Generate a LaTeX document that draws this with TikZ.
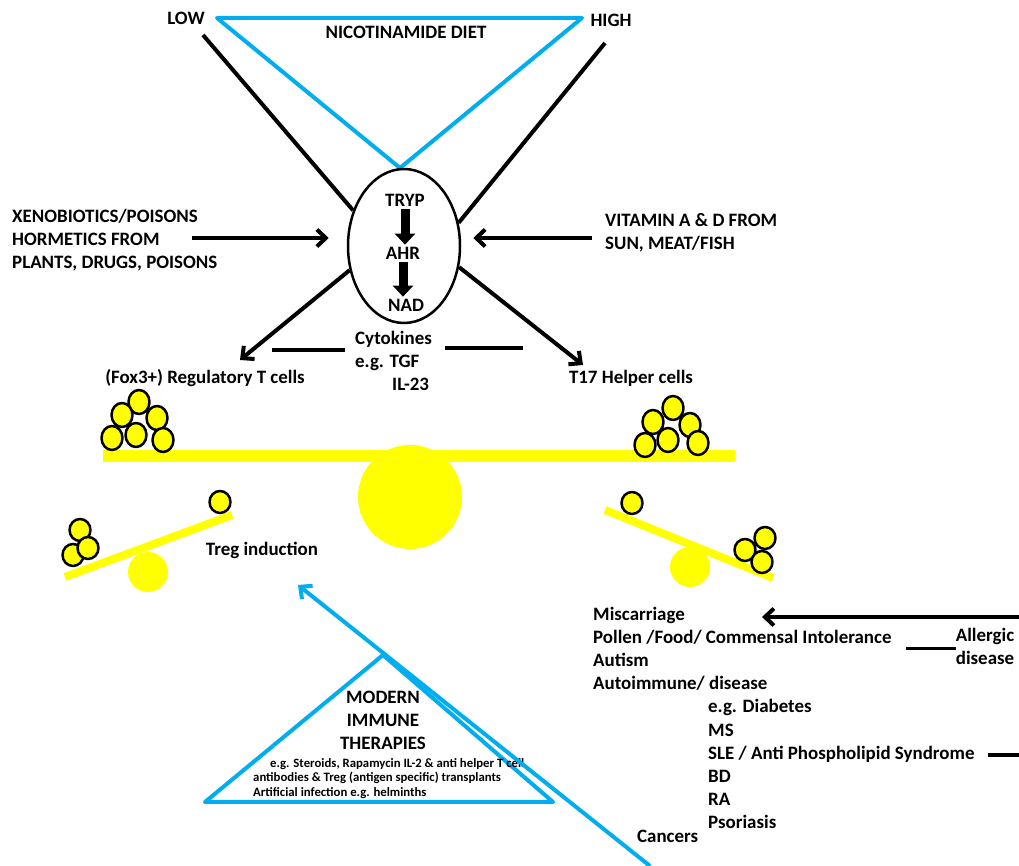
\documentclass[tikz,border=0pt]{standalone}
\usepackage{fontspec}
\setmainfont{Carlito}
\usetikzlibrary{shapes.geometric,arrows.meta}
\definecolor{dietblue}{RGB}{0,174,239}
\definecolor{cellyellow}{RGB}{255,255,0}
\begin{document}
\begin{tikzpicture}[>={Straight Barb[length=9bp,width=17bp]},line join=round,
  lbl/.style={font=\bfseries\fontsize{19}{23.2}\selectfont,inner sep=0pt},
  tiny/.style={font=\bfseries\fontsize{12.8}{14.5}\selectfont,inner sep=0pt},
  blk/.style={line width=4bp,black},
  blu/.style={line width=4bp,dietblue},
  tcell/.style={ellipse,draw=black,line width=2.5bp,fill=cellyellow,minimum width=21bp,minimum height=24bp,inner sep=0pt},
  pathway/.style={-{Triangle[width=20bp,length=11bp]},line width=9bp}]
\useasboundingbox (0bp,0bp) rectangle (1019bp,866bp);
%% nicotinamide diet
  \coordinate (dietL) at (217bp,848bp);
  \coordinate (dietR) at (582bp,848bp);
  \coordinate (dietB) at (400bp,698bp);
  \draw [blu] (dietL) -- (dietR) -- (dietB) -- cycle;
  \node (LOW) at (186bp,848bp) [lbl] {LOW};
  \node (HIGH) at (611bp,846bp) [lbl] {HIGH};
  \node (DIET) at (406bp,834bp) [lbl] {NICOTINAMIDE DIET};
%% AHR pathway
  \node (AHRcell) at (404bp,620bp) [draw,ellipse,line width=2.5bp,minimum width=112bp,minimum height=154bp] {};
  \node (TRYP) at (405bp,666bp) [lbl] {TRYP};
  \node (AHR) at (403bp,613bp) [lbl] {AHR};
  \node (NAD) at (406bp,561bp) [lbl] {NAD};
  \draw [pathway,shorten <=3bp,shorten >=2bp] (TRYP.south) -- (TRYP.south |- AHR.north);
  \draw [pathway,shorten <=3bp,shorten >=2bp] (AHR.south) -- (AHR.south |- NAD.north);
  \coordinate (lowEnd) at (203bp,831bp);
  \coordinate (highEnd) at (605bp,823bp);
  \coordinate (regTip) at (240bp,506bp);
  \coordinate (helpTip) at (583bp,501bp);
  \draw [blk] (lowEnd) -- (AHRcell.145);
  \draw [blk] (highEnd) -- (AHRcell.23);
  \draw [blk,->] (AHRcell.204) -- (regTip);
  \draw [blk,->] (AHRcell.339) -- (helpTip);
%% inputs
  \node (XENO) at (12bp,626bp) [lbl,anchor=west,align=left] {XENOBIOTICS/POISONS\\HORMETICS FROM\\PLANTS, DRUGS, POISONS};
  \coordinate (xenoTail) at (192bp,628bp);
  \draw [blk,->,shorten >=18bp] (xenoTail) -- (AHRcell.west |- xenoTail);
  \node (VITA) at (605bp,633bp) [lbl,anchor=west,align=left] {VITAMIN A \& D FROM\\SUN, MEAT/FISH};
  \coordinate (vitaTail) at (592bp,628bp);
  \draw [blk,->,shorten >=12bp] (vitaTail) -- (AHRcell.east |- vitaTail);
%% cytokines
  \node (CYTO) at (355bp,535bp) [lbl,anchor=north west,align=left] {Cytokines\\e.g. TGF\\\hspace*{37bp}IL-23};
  \coordinate (cytoA) at (272bp,516bp);
  \coordinate (cytoB) at (345bp,516bp);
  \coordinate (cytoC) at (445bp,518bp);
  \coordinate (cytoD) at (523bp,518bp);
  \draw [blk] (cytoA) -- (cytoB);
  \draw [blk] (cytoC) -- (cytoD);
  \node (RegT) at (205bp,488bp) [lbl] {(Fox3+) Regulatory T cells};
  \node (T17) at (631bp,488bp) [lbl] {T17 Helper cells};
%% big balance
  \fill [cellyellow] (410bp,369bp) circle (52bp);
  \draw [cellyellow,line width=12bp] (103bp,410bp) -- (735bp,410bp);
  \foreach \x/\y [count=\i] in {139/464,122/451,157/448,112/428,136/431,163/426}
    \node (regCell\i) at (\x bp,\y bp) [tcell] {};
  \foreach \x/\y [count=\i] in {673/458,653/444,690/441,645/421,668/426,698/423}
    \node (helpCell\i) at (\x bp,\y bp) [tcell] {};
%% small balances
  \fill [cellyellow] (148bp,294bp) circle (20bp);
  \draw [cellyellow,line width=8bp] (65bp,289bp) -- (232bp,351bp);
  \foreach \x/\y [count=\i] in {220/364,80/336,73/311,88/318}
    \node (tregCell\i) at (\x bp,\y bp) [tcell,minimum height=22bp] {};
  \fill [cellyellow] (690bp,299bp) circle (20bp);
  \draw [cellyellow,line width=8bp] (605bp,356bp) -- (773bp,288bp);
  \foreach \x/\y [count=\i] in {632/363,765/328,745/316,762/304}
    \node (thCell\i) at (\x bp,\y bp) [tcell,minimum height=22bp] {};
  \node (Treg) at (262bp,316bp) [lbl] {Treg induction};
%% therapies
  \coordinate (therTop) at (383bp,211bp);
  \coordinate (therL) at (205bp,64bp);
  \coordinate (therR) at (553bp,64bp);
  \draw [blu] (therTop) -- (therR) -- (therL) -- cycle;
  \node (MODERN) at (383bp,146bp) [lbl,align=center] {MODERN\\IMMUNE\\THERAPIES};
  \node (EXAMPLES) at (253bp,108bp) [tiny,anchor=north west,align=left] {\hspace*{17bp}e.g. Steroids, Rapamycin IL-2 \& anti helper T cell\\antibodies \& Treg (antigen specific) transplants\\Artificial infection e.g. helminths};
  \coordinate (blueTail) at (650bp,0bp);
  \coordinate (tregTip) at (298bp,281bp);
  \draw [blu,->] (blueTail) -- (tregTip);
%% diseases
  \node (DISEASE) at (593bp,259bp) [lbl,anchor=north west,align=left] {Miscarriage\\Pollen /Food/ Commensal Intolerance\\Autism\\Autoimmune/ disease\\\hspace*{115bp}e.g. Diabetes\\\hspace*{115bp}MS\\\hspace*{115bp}SLE / Anti Phospholipid Syndrome\\\hspace*{115bp}BD\\\hspace*{115bp}RA\\\hspace*{115bp}Psoriasis};
  \node (CANCER) at (637bp,30bp) [lbl,anchor=west] {Cancers};
  \node (ALLERGY) at (985bp,220bp) [lbl,align=center] {Allergic\\disease};
  \coordinate (miscTail) at (1019bp,249bp);
  \coordinate (miscTip) at (762bp,249bp);
  \draw [blk,->] (miscTail) -- (miscTip);
  \coordinate (intolEnd) at (906bp,217bp);
  \draw [line width=3bp] (intolEnd) -- (ALLERGY.west |- intolEnd);
  \coordinate (sleEnd) at (988bp,111bp);
  \coordinate (sleTail) at (1019bp,111bp);
  \draw [blk] (sleEnd) -- (sleTail);
%
\end{tikzpicture}
\end{document}
